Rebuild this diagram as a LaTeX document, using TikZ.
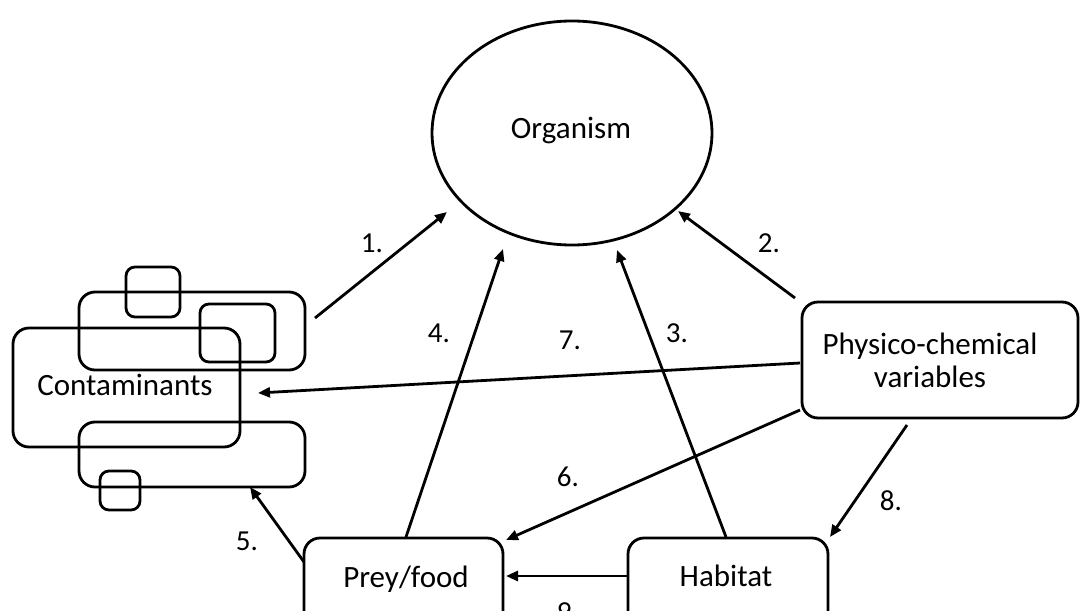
\documentclass[tikz,border=0pt]{standalone}
\usepackage{fontspec}
\setmainfont{Carlito}
\usetikzlibrary{arrows.meta,shapes.geometric}
\begin{document}
\begin{tikzpicture}[x=1pt,y=-1pt,
  every node/.style={font=\fontsize{31}{36}\selectfont, inner sep=0pt, outer sep=0pt},
  box/.style={draw, line width=2.8pt, rounded corners=16pt, anchor=north west},
  sq/.style={draw, line width=2.8pt, rounded corners=9pt, anchor=north west},
  conn/.style={line width=2.8pt, -{Triangle[length=12pt,width=10pt]}},
  lab/.style={font=\fontsize{29}{34}\selectfont}]
\clip (0,0) rectangle (1080,611);
% organism
\node[draw, ellipse, line width=2.8pt, minimum width=280pt, minimum height=224pt] (org) at (572,133) {};
\node (orgt) at (571,130) {Organism};
% contaminants cluster
\node[box, minimum width=226pt, minimum height=78pt] (cup) at (79,292) {};
\node[box, minimum width=226pt, minimum height=65pt] (clow) at (79,422) {};
\node[box, minimum width=227pt, minimum height=119pt] (cont) at (13,328) {};
\node[sq, minimum width=54pt, minimum height=50pt] (sqa) at (126,267) {};
\node[sq, minimum width=75pt, minimum height=58pt] (sqb) at (200,304) {};
\node[sq, minimum width=40pt, minimum height=39pt] (sqc) at (100,471) {};
\node (contt) at (125,385) {Contaminants};
% other boxes
\node[box, minimum width=276pt, minimum height=116pt] (phys) at (802,302) {};
\node[align=center] (physt) at (930,360) {Physico-chemical\\[-3pt]variables};
\node[box, minimum width=199pt, minimum height=95pt] (prey) at (304,538) {};
\node (preyt) at (406,579) {Prey/food};
\node[box, minimum width=200pt, minimum height=95pt] (hab) at (628,538) {};
\node (habt) at (726,576) {Habitat};
% connector end points on the borders
\coordinate (c1s) at (315,318);
\coordinate (c1e) at (447,212);
\coordinate (c2s) at (795,298);
\coordinate (c2e) at (678,211);
\coordinate (c4s) at (406,537);
\coordinate (c4e) at (503,249);
\coordinate (c3s) at (726,537);
\coordinate (c3e) at (617,250);
\coordinate (c7s) at (800,363);
\coordinate (c7e) at (258,393);
\coordinate (c6s) at (800,410);
\coordinate (c6e) at (506,540);
\coordinate (c8s) at (907,425);
\coordinate (c8e) at (830,537);
\coordinate (c5s) at (304,562);
\coordinate (c5e) at (250,487);
\coordinate (c9s) at (628,576);
\coordinate (c9e) at (506,576);
\draw[conn] (c1s) -- (c1e);
\draw[conn] (c2s) -- (c2e);
\draw[conn] (c4s) -- (c4e);
\draw[conn] (c3s) -- (c3e);
\draw[conn] (c7s) -- (c7e);
\draw[conn] (c6s) -- (c6e);
\draw[conn] (c8s) -- (c8e);
\draw[conn] (c5s) -- (c5e);
\draw[conn] (c9s) -- (c9e);
% labels
\node[lab] (l1) at (372,243) {1.};
\node[lab] (l2) at (769,243) {2.};
\node[lab] (l3) at (677,333) {3.};
\node[lab] (l4) at (439,333) {4.};
\node[lab] (l5) at (247,541) {5.};
\node[lab] (l6) at (568,477) {6.};
\node[lab] (l7) at (570,340) {7.};
\node[lab] (l8) at (891,501) {8.};
\node[lab] (l9) at (568,612) {9.};
\end{tikzpicture}
\end{document}
